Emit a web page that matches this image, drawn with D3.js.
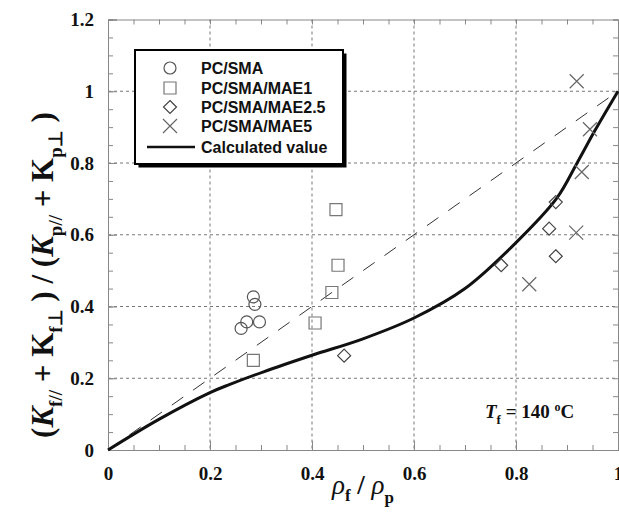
<!DOCTYPE html>
<html>
<head>
<meta charset="utf-8">
<script src="https://cdn.jsdelivr.net/npm/d3@7"></script>
<style>
  body { margin: 0; background: #fff; overflow: hidden; }
  svg { display: block; }
</style>
<script>
// Data, [rho_f/rho_p, ratio]
const pcSma = [[0.261, 0.339], [0.272, 0.357], [0.285, 0.427], [0.288, 0.406], [0.297, 0.357]]
const pcSmaMae1 = [[0.285, 0.25], [0.406, 0.354], [0.439, 0.439], [0.447, 0.67], [0.451, 0.515]]
const pcSmaMae25 = [[0.463, 0.263], [0.771, 0.515], [0.865, 0.617], [0.878, 0.54], [0.878, 0.691]]
const pcSmaMae5 = [[0.826, 0.462], [0.918, 0.606], [0.929, 0.775], [0.945, 0.894], [0.919, 1.028]]
const calculated = [[0, 0], [0.098, 0.084], [0.2, 0.16], [0.239, 0.183], [0.305, 0.218], [0.4, 0.264],
    [0.5, 0.31], [0.6, 0.368], [0.7, 0.45], [0.8, 0.578], [0.88, 0.702],
    [0.919, 0.798], [0.955, 0.891], [1, 1]]
const diagonal = [[0, 0], [1, 1]]
const xTicks = [0, 0.2, 0.4, 0.6, 0.8, 1]
const yTicks = [0, 0.2, 0.4, 0.6, 0.8, 1, 1.2]
const legendLabels = ["PC/SMA", "PC/SMA/MAE1", "PC/SMA/MAE2.5", "PC/SMA/MAE5", "Calculated value"]

const width = 619
const height = 525
const margin = { top: 19.5, right: 1, bottom: 75, left: 108 }
const innerWidth = width - margin.left - margin.right
const innerHeight = height - margin.top - margin.bottom

const serif = "'Liberation Serif', 'Times New Roman', serif"
const sans = "'Liberation Sans', Arial, sans-serif"
const axisGray = "#888"
const markGray = "#555"

const render = () => {
    const svg = d3.select("svg")
        .attr("width", width)
        .attr("height", height)

    const g = svg.append("g")
        .attr("transform", `translate(${margin.left}, ${margin.top})`)

    // Scales
    const xScale = d3.scaleLinear().domain([0, 1]).range([0, innerWidth])
    const yScale = d3.scaleLinear().domain([0, 1.2]).range([innerHeight, 0])

    const minorX = d3.range(0, 1.0001, 0.05)
    const minorY = d3.range(0, 1.2001, 0.05)

    // Grid
    const grid = g.append("g")
        .attr("stroke", "#777")
        .attr("stroke-width", 1)
        .attr("stroke-dasharray", "3,3")
    grid.selectAll(".vg").data(xTicks.slice(1, -1)).enter().append("line")
        .attr("x1", d => xScale(d)).attr("x2", d => xScale(d))
        .attr("y1", 0).attr("y2", innerHeight)
    grid.selectAll(".hg").data(yTicks.slice(1, -1)).enter().append("line")
        .attr("y1", d => yScale(d)).attr("y2", d => yScale(d))
        .attr("x1", 0).attr("x2", innerWidth)

    // Axes, ticks point inward on all four sides
    const styleAxis = sel => {
        sel.selectAll(".domain").attr("stroke", axisGray)
        sel.selectAll(".tick line").attr("stroke", axisGray)
        sel.selectAll("text")
            .attr("font-family", serif)
            .attr("font-weight", "bold")
            .attr("font-size", "19px")
            .attr("fill", "#111")
    }
    const noText = sel => sel.selectAll("text").remove()
    const fmt = d3.format("")

    g.append("g").attr("transform", `translate(0, ${innerHeight})`)
        .call(d3.axisBottom(xScale).tickValues(minorX).tickSize(-5).tickFormat(""))
        .call(styleAxis).call(noText)
    g.append("g").attr("transform", `translate(0, ${innerHeight})`)
        .call(d3.axisBottom(xScale).tickValues(xTicks).tickSize(-9).tickPadding(17).tickFormat(fmt))
        .call(styleAxis)
    g.append("g")
        .call(d3.axisTop(xScale).tickValues(minorX).tickSize(-5).tickFormat(""))
        .call(styleAxis).call(noText)
    g.append("g")
        .call(d3.axisLeft(yScale).tickValues(minorY).tickSize(-5).tickFormat(""))
        .call(styleAxis).call(noText)
    g.append("g")
        .call(d3.axisLeft(yScale).tickValues(yTicks).tickSize(-9).tickPadding(14).tickFormat(fmt))
        .call(styleAxis)
    g.append("g").attr("transform", `translate(${innerWidth}, 0)`)
        .call(d3.axisRight(yScale).tickValues(minorY).tickSize(-5).tickFormat(""))
        .call(styleAxis).call(noText)

    // Lines
    const line = d3.line()
        .x(d => xScale(d[0]))
        .y(d => yScale(d[1]))

    g.append("path")
        .attr("d", line(diagonal))
        .attr("fill", "none")
        .attr("stroke", "#333")
        .attr("stroke-width", 1)
        .attr("stroke-dasharray", "14,12")

    g.append("path")
        .attr("d", line.curve(d3.curveCatmullRom.alpha(0.5))(calculated))
        .attr("fill", "none")
        .attr("stroke", "#111")
        .attr("stroke-width", 3)

    // Markers
    const symbolPath = {
        circle: d3.symbol().type(d3.symbolCircle).size(Math.PI * 36)(),
        square: d3.symbol().type(d3.symbolSquare).size(144)(),
        diamond: "M0,-6.5L6.5,0L0,6.5L-6.5,0Z",
        cross: "M-7,-7L7,7M-7,7L7,-7"
    }
    const series = [
        { data: pcSma, shape: "circle", color: markGray },
        { data: pcSmaMae1, shape: "square", color: "#777" },
        { data: pcSmaMae25, shape: "diamond", color: "#444" },
        { data: pcSmaMae5, shape: "cross", color: "#666" }
    ]
    series.forEach(s => {
        g.append("g").selectAll("path").data(s.data).enter().append("path")
            .attr("transform", d => `translate(${xScale(d[0])}, ${yScale(d[1])})`)
            .attr("d", symbolPath[s.shape])
            .attr("fill", "none")
            .attr("stroke", s.color)
            .attr("stroke-width", 1.2)
    })

    // Legend
    const legend = svg.append("g").attr("transform", "translate(135, 50)")
    legend.append("rect")
        .attr("x", 3.5).attr("y", 3.5).attr("width", 208).attr("height", 114)
        .attr("fill", "#000")
    legend.append("rect")
        .attr("width", 208).attr("height", 114)
        .attr("fill", "#fff").attr("stroke", "#000").attr("stroke-width", 2)

    const rowY = [18, 38, 57, 76, 97]
    legendLabels.forEach((label, i) => {
        const row = legend.append("g").attr("transform", `translate(0, ${rowY[i]})`)
        if (i < 4) {
            row.append("path")
                .attr("transform", "translate(35, 0)")
                .attr("d", symbolPath[series[i].shape])
                .attr("fill", "none")
                .attr("stroke", series[i].color)
                .attr("stroke-width", 1.2)
        } else {
            row.append("line")
                .attr("x1", 12).attr("x2", 60)
                .attr("stroke", "#111").attr("stroke-width", 2.5)
        }
        row.append("text")
            .attr("x", 66).attr("y", 6)
            .attr("font-family", sans)
            .attr("font-weight", "bold")
            .attr("font-size", "16px")
            .attr("fill", "#111")
            .text(label)
    })

    // text with lowered / raised pieces via baseline-shift
    const addPieces = (textSel, pieces) => {
        pieces.forEach(p => {
            const ts = textSel.append("tspan").text(p.t)
            if (p.italic) ts.attr("font-style", "italic")
            if (p.normal) ts.attr("font-weight", "normal")
            if (p.size) ts.attr("font-size", p.size)
            if (p.shift) ts.attr("baseline-shift", p.shift)
        })
    }

    // Annotation
    const note = svg.append("text")
        .attr("x", 485).attr("y", 418)
        .attr("font-family", serif)
        .attr("font-weight", "bold")
        .attr("font-size", "19px")
        .attr("fill", "#111")
    addPieces(note, [
        { t: "T", italic: true },
        { t: "f", size: "13px", shift: "-6px" },
        { t: " = 140 " },
        { t: "o", size: "12px", shift: "7px" },
        { t: "C" }
    ])

    // x axis title
    const xTitle = svg.append("text")
        .attr("x", margin.left + innerWidth / 2).attr("y", 494)
        .attr("text-anchor", "middle")
        .attr("font-family", serif)
        .attr("font-weight", "bold")
        .attr("font-size", "27px")
        .attr("fill", "#111")
    addPieces(xTitle, [
        { t: "ρ", italic: true, normal: true },
        { t: "f", size: "17px", shift: "-7px" },
        { t: " / " },
        { t: "ρ", italic: true, normal: true },
        { t: "p", size: "17px", shift: "-9px" }
    ])

    // y axis title
    const yTitle = svg.append("text")
        .attr("transform", "translate(53, 275) rotate(-90)")
        .attr("text-anchor", "middle")
        .attr("font-family", serif)
        .attr("font-weight", "bold")
        .attr("font-size", "31px")
        .attr("fill", "#111")
    addPieces(yTitle, [
        { t: "(" }, { t: "K", italic: true }, { t: "f//", size: "19px", shift: "-9px" },
        { t: " + K" }, { t: "f⊥", size: "19px", shift: "-9px" },
        { t: " ) / (" }, { t: "K", italic: true }, { t: "p//", size: "19px", shift: "-9px" },
        { t: " + K" }, { t: "p⊥", size: "19px", shift: "-9px" }, { t: " )" }
    ])
}

document.addEventListener("DOMContentLoaded", render)
</script>
</head>
<body>
<svg></svg>
</body>
</html>
